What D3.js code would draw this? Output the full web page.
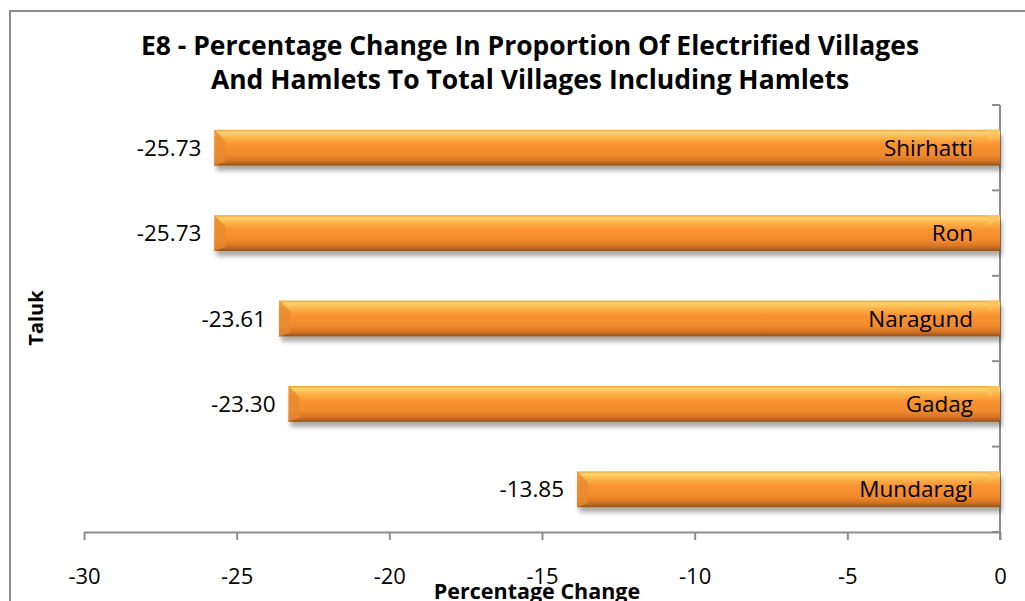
<!DOCTYPE html>
<html>
<head>
<meta charset="utf-8">
<script src="https://cdn.jsdelivr.net/npm/d3@7"></script>
<style>
  body { margin: 0; background: #fff; }
  svg { display: block; font-family: "Open Sans", Lato, sans-serif; }
</style>
</head>
<body>
<figure id="bar" style="margin:0"></figure>
<script>
const taluks = ["Shirhatti", "Ron", "Naragund", "Gadag", "Mundaragi"];
const changes = [-25.73, -25.73, -23.61, -23.30, -13.85];
const xTicks = [-30, -25, -20, -15, -10, -5, 0];
const titleLines = [
  "E8 - Percentage Change In Proportion Of Electrified Villages",
  "And Hamlets To Total Villages Including Hamlets"
];

const width = 1025, height = 601;
const margin = { top: 105, right: 25, bottom: 69, left: 84 };
const innerW = width - margin.left - margin.right;
const innerH = height - margin.top - margin.bottom;

const data = taluks.map((t, i) => ({ taluk: t, value: changes[i] }));

const svg = d3.select("figure#bar")
  .append("svg")
  .attr("width", width)
  .attr("height", height);

// gradients + shadow
const defs = svg.append("defs");
const grad = defs.append("linearGradient")
  .attr("id", "barGrad")
  .attr("x1", 0).attr("y1", 0).attr("x2", 0).attr("y2", 1);
[
  [0, "#f0a040"], [0.08, "#ffd56e"], [0.2, "#fdb64e"], [0.4, "#f99432"],
  [0.7, "#f08a2c"], [0.85, "#d87626"], [0.93, "#b9651f"], [1, "#935017"]
].forEach(([o, c]) => grad.append("stop").attr("offset", o).attr("stop-color", c));

const shadow = defs.append("filter").attr("id", "shadow")
  .attr("x", "-5%").attr("y", "-20%").attr("width", "110%").attr("height", "160%");
shadow.append("feGaussianBlur").attr("in", "SourceAlpha").attr("stdDeviation", 2.5);
shadow.append("feOffset").attr("dx", 2).attr("dy", 5).attr("result", "blur");
shadow.append("feComponentTransfer").append("feFuncA").attr("type", "linear").attr("slope", 0.35);
const merge = shadow.append("feMerge");
merge.append("feMergeNode");
merge.append("feMergeNode").attr("in", "SourceGraphic");

// chart border
svg.append("rect")
  .attr("x", 10).attr("y", 11)
  .attr("width", 1040).attr("height", 620)
  .attr("fill", "none")
  .attr("stroke", "#8c8c8c")
  .attr("stroke-width", 2);

// title
svg.append("text")
  .attr("x", 530)
  .attr("text-anchor", "middle")
  .attr("font-weight", "bold")
  .attr("font-size", 26.5)
  .attr("fill", "#000")
  .selectAll("tspan")
  .data(titleLines)
  .enter()
  .append("tspan")
  .attr("x", 530)
  .attr("y", (d, i) => 55 + i * 34)
  .text(d => d);

const g = svg.append("g")
  .attr("transform", "translate(" + margin.left + "," + margin.top + ")");

const x = d3.scaleLinear()
  .domain([-30, 0])
  .range([0, innerW]);

const y = d3.scaleBand()
  .domain(taluks)
  .range([0, innerH])
  .paddingInner(0.58)
  .paddingOuter(0.29);

// X axis
const xAxis = g.append("g")
  .attr("transform", "translate(0," + innerH + ")")
  .call(d3.axisBottom(x).tickValues(xTicks).tickSize(8).tickSizeOuter(0).tickPadding(28)
    .tickFormat(d => String(d)));
xAxis.select(".domain").attr("stroke", "#8c8c8c").attr("stroke-width", 2);
xAxis.selectAll(".tick line").attr("stroke", "#8c8c8c").attr("stroke-width", 2);
xAxis.selectAll("text")
  .attr("font-size", 22)
  .attr("font-family", "'Open Sans', Lato, sans-serif")
  .attr("fill", "#000");

// Y axis (category axis at zero, ticks inward)
const yTickPos = d3.range(taluks.length + 1).map(i => i * innerH / taluks.length);
const yAxis = g.append("g").attr("transform", "translate(" + x(0) + ",0)");
yAxis.append("line")
  .attr("x1", 0).attr("x2", 0)
  .attr("y1", 0).attr("y2", innerH + 8)
  .attr("stroke", "#8c8c8c").attr("stroke-width", 2);
yAxis.selectAll(".ytick")
  .data(yTickPos)
  .enter()
  .append("line")
  .attr("x1", -8).attr("x2", 0)
  .attr("y1", d => d).attr("y2", d => d)
  .attr("stroke", "#8c8c8c").attr("stroke-width", 2);

// bars
const bars = g.selectAll(".bar")
  .data(data)
  .enter()
  .append("g")
  .attr("class", "bar");

bars.append("rect")
  .attr("x", d => x(d.value))
  .attr("y", d => y(d.taluk))
  .attr("width", d => x(0) - x(d.value))
  .attr("height", y.bandwidth())
  .attr("fill", "url(#barGrad)")
  .attr("filter", "url(#shadow)");

// bevel at ends
bars.append("path")
  .attr("d", d => {
    const x0 = x(d.value), y0 = y(d.taluk), h = y.bandwidth(), b = 11;
    return "M" + x0 + "," + y0 + "L" + (x0 + b) + "," + (y0 + b) + "L" + (x0 + b) + "," + (y0 + h - 4) +
      "L" + x0 + "," + (y0 + h) + "Z";
  })
  .attr("fill", "#e98a2e")
  .attr("opacity", 0.8);
bars.append("path")
  .attr("d", d => {
    const x1 = x(0), y0 = y(d.taluk), b = 11;
    return "M" + x1 + "," + y0 + "L" + (x1 - b) + "," + (y0 + b) + "L" + (x1 - b) + "," + y0 + "Z";
  })
  .attr("fill", "#fcc35c");

// category labels inside bars
bars.append("text")
  .attr("x", x(0) - 27)
  .attr("y", d => y(d.taluk) + y.bandwidth() / 2)
  .attr("dy", "0.36em")
  .attr("text-anchor", "end")
  .attr("font-size", 22.5)
  .attr("fill", "#000")
  .text(d => d.taluk);

// value labels
bars.append("text")
  .attr("x", d => x(d.value) - 13)
  .attr("y", d => y(d.taluk) + y.bandwidth() / 2)
  .attr("dy", "0.36em")
  .attr("text-anchor", "end")
  .attr("font-size", 22.5)
  .attr("fill", "#000")
  .text(d => d3.format(".2f")(d.value).replace("\u2212", "-"));

// axis titles
svg.append("text")
  .attr("x", 537)
  .attr("y", 599)
  .attr("text-anchor", "middle")
  .attr("font-weight", "bold")
  .attr("font-size", 21.5)
  .text("Percentage Change");

svg.append("text")
  .attr("transform", "translate(43,318) rotate(-90)")
  .attr("text-anchor", "middle")
  .attr("font-weight", "bold")
  .attr("font-size", 20)
  .text("Taluk");
</script>
</body>
</html>
